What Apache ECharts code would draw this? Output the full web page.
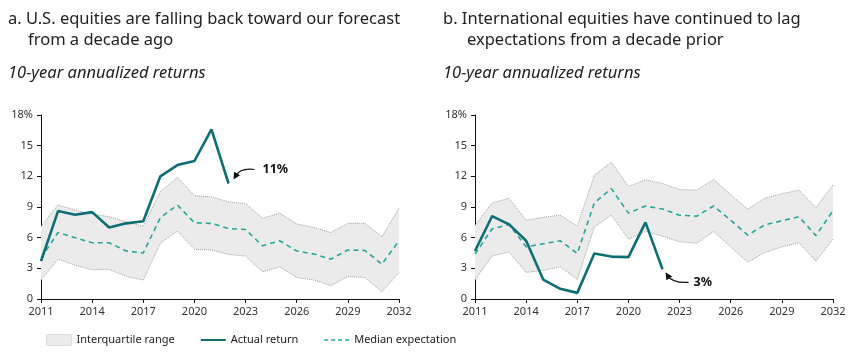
<!DOCTYPE html>
<html>
<head>
<meta charset="utf-8">
<script src="https://cdn.jsdelivr.net/npm/echarts@6/dist/echarts.min.js"></script>
<style>
  html, body { margin: 0; padding: 0; background: #fff; }
  #main { width: 860px; height: 352px; }
</style>
</head>
<body>
<div id="main"></div>
<script>
const years = ['2011','2012','2013','2014','2015','2016','2017','2018','2019','2020','2021',
  '2022','2023','2024','2025','2026','2027','2028','2029','2030','2031','2032'];
const yTicks = [0, 3, 6, 9, 12, 15, 18];

// a. U.S. equities
const usActual = [3.7, 8.6, 8.25, 8.5, 7.0, 7.4, 7.6, 12.0, 13.1, 13.5, 16.6, 11.3];
const usMedian = [4.0, 6.5, 6.0, 5.5, 5.5, 4.7, 4.5, 7.95, 9.2, 7.45, 7.4, 6.9, 6.8, 5.2, 5.7, 4.7, 4.4, 3.9, 4.8, 4.75, 3.4, 5.7];
const usUpper = [7.1, 9.2, 8.7, 8.3, 8.05, 7.55, 7.1, 10.5, 11.9, 10.1, 10.0, 9.5, 9.35, 7.9, 8.4, 7.35, 7.0, 6.5, 7.4, 7.4, 6.1, 8.9];
const usLower = [1.85, 3.9, 3.3, 2.85, 2.9, 2.2, 1.85, 5.45, 6.65, 4.85, 4.8, 4.35, 4.2, 2.65, 3.15, 2.1, 1.85, 1.3, 2.2, 2.1, 0.7, 2.6];

// b. International equities
const intlActual = [4.7, 8.1, 7.3, 5.7, 1.9, 1.0, 0.6, 4.45, 4.15, 4.1, 7.5, 2.9];
const intlMedian = [4.4, 6.85, 7.3, 5.1, 5.4, 5.7, 4.45, 9.4, 10.8, 8.4, 9.1, 8.8, 8.2, 8.1, 9.1, 7.7, 6.25, 7.25, 7.65, 8.05, 6.2, 8.65];
const intlUpper = [7.2, 9.4, 9.85, 7.7, 8.0, 8.2, 7.15, 12.1, 13.4, 11.0, 11.65, 11.3, 10.7, 10.65, 11.7, 10.2, 8.8, 9.85, 10.3, 10.65, 8.95, 11.15];
const intlLower = [1.85, 4.2, 4.6, 2.6, 2.8, 3.15, 1.9, 7.05, 8.2, 5.85, 6.6, 6.15, 5.6, 5.45, 6.6, 5.1, 3.6, 4.55, 5.1, 5.5, 3.7, 5.85];

const labels = { us: '11%', intl: '3%' };

const FONT = '"Noto Sans", "Open Sans", sans-serif';
const TEXT = '#222';
const ACTUAL = '#0e6e76';
const MEDIAN = '#26a69a';
const BAND = '#ebebeb';
const BAND_LINE = '#a0a0a0';

function xAxis(idx) {
  return {
    type: 'category', gridIndex: idx, data: years, boundaryGap: false,
    axisLine: { lineStyle: { color: '#111', width: 1 } },
    axisTick: { interval: 2, length: 4, lineStyle: { color: '#111' } },
    axisLabel: { interval: 2, color: '#333', fontFamily: FONT, fontSize: 11, margin: 7 }
  };
}
function yAxis(idx) {
  return {
    type: 'value', gridIndex: idx, min: 0, max: 18, interval: 3,
    axisLine: { show: true, lineStyle: { color: '#111', width: 1 } },
    axisTick: { show: true, length: 4, lineStyle: { color: '#111' } },
    splitLine: { show: false },
    axisLabel: {
      color: '#333', fontFamily: FONT, fontSize: 11, margin: 8,
      formatter: v => (v === 18 ? '18%' : String(v))
    }
  };
}
function bandSeries(idx, lower, upper, stack) {
  const diff = upper.map((u, i) => +(u - lower[i]).toFixed(2));
  return [
    {
      name: 'lower', type: 'line', xAxisIndex: idx, yAxisIndex: idx, stack: stack,
      data: lower, symbol: 'none', silent: true, z: 1,
      lineStyle: { color: BAND_LINE, width: 1, type: 'dotted' }
    },
    {
      name: 'Interquartile range', type: 'line', xAxisIndex: idx, yAxisIndex: idx, stack: stack,
      data: diff, symbol: 'none', silent: true, z: 1,
      itemStyle: { color: BAND },
      lineStyle: { color: BAND_LINE, width: 1, type: 'dotted' },
      areaStyle: { color: BAND, opacity: 1 }
    }
  ];
}
function lineSeries(idx, actual, median) {
  return [
    {
      name: 'Median expectation', type: 'line', xAxisIndex: idx, yAxisIndex: idx,
      data: median, symbol: 'none', z: 3,
      itemStyle: { color: MEDIAN },
      lineStyle: { color: MEDIAN, width: 1.6, type: [5, 4] }
    },
    {
      name: 'Actual return', type: 'line', xAxisIndex: idx, yAxisIndex: idx,
      data: actual, symbol: 'none', z: 4,
      itemStyle: { color: ACTUAL },
      lineStyle: { color: ACTUAL, width: 2.6 }
    }
  ];
}

function titleText(x, y, text, italic) {
  return {
    type: 'text', left: x, top: y,
    style: { text: text, fill: TEXT, font: (italic ? 'italic ' : '') + '16.5px ' + FONT }
  };
}

const chart = echarts.init(document.getElementById('main'), null, { renderer: 'canvas' });

const option = {
  animation: false,
  grid: [
    { left: 41, top: 115, width: 358, height: 184 },
    { left: 475, top: 115, width: 358, height: 184 }
  ],
  xAxis: [xAxis(0), xAxis(1)],
  yAxis: [yAxis(0), yAxis(1)],
  legend: {
    left: 41, top: 329, itemWidth: 25, itemHeight: 11, itemGap: 25,
    textStyle: { color: '#222', fontFamily: FONT, fontSize: 11 },
    data: [
      { name: 'Interquartile range', icon: 'rect', itemStyle: { color: BAND, borderColor: '#c4c4c4', borderType: 'dotted', borderWidth: 1 } },
      { name: 'Actual return', itemStyle: { opacity: 0 }, lineStyle: { color: ACTUAL, width: 2 } },
      { name: 'Median expectation', itemStyle: { opacity: 0 }, lineStyle: { color: MEDIAN, width: 1.6, type: [4, 3] } }
    ],
    selectedMode: false
  },
  series: [
    ...bandSeries(0, usLower, usUpper, 'us'),
    ...lineSeries(0, usActual, usMedian),
    ...bandSeries(1, intlLower, intlUpper, 'intl'),
    ...lineSeries(1, intlActual, intlMedian)
  ],
  graphic: [
    titleText(8, 11, 'a. U.S. equities are falling back toward our forecast'),
    titleText(28, 32, 'from a decade ago'),
    titleText(8, 65, '10-year annualized returns', true),
    titleText(443, 11, 'b. International equities have continued to lag'),
    titleText(467, 32, 'expectations from a decade prior'),
    titleText(443, 65, '10-year annualized returns', true)
  ]
};
chart.setOption(option);

// annotations anchored to the last actual point
function arrowHead(tip, from) {
  const dx = tip[0] - from[0], dy = tip[1] - from[1];
  const len = Math.sqrt(dx * dx + dy * dy);
  const ux = dx / len, uy = dy / len;
  const L = 7, W = 3.5;
  const bx = tip[0] - ux * L, by = tip[1] - uy * L;
  return [tip, [bx - uy * W, by + ux * W], [bx + uy * W, by - ux * W]];
}
function annotate(gridIdx, xCat, yVal, text, dir) {
  const p = chart.convertToPixel({ xAxisIndex: gridIdx, yAxisIndex: gridIdx }, [xCat, yVal]);
  let tip, start, ctrl, tx, ty;
  if (dir === 'up') {
    tip = [p[0] + 5, p[1] - 4];
    start = [p[0] + 26, p[1] - 14];
    ctrl = [p[0] + 12, p[1] - 16];
    tx = start[0] + 8; ty = start[1];
  } else {
    tip = [p[0] + 3, p[1] + 3];
    start = [p[0] + 26, p[1] + 13];
    ctrl = [p[0] + 10, p[1] + 14];
    tx = start[0] + 5; ty = start[1];
  }
  return [
    { type: 'bezierCurve', shape: { x1: start[0], y1: start[1], x2: tip[0] + (ctrl[0] - tip[0]) * 0.3, y2: tip[1] + (ctrl[1] - tip[1]) * 0.3, cpx1: ctrl[0], cpy1: ctrl[1] },
      style: { stroke: '#111', lineWidth: 1.2, fill: null }, z: 10 },
    { type: 'polygon', shape: { points: arrowHead(tip, ctrl) }, style: { fill: '#111' }, z: 10 },
    { type: 'text', x: tx, y: ty, style: { text: text, fill: '#111', font: 'bold 12.5px ' + FONT, verticalAlign: 'middle' }, z: 10 }
  ];
}
chart.setOption({
  graphic: option.graphic.concat(
    annotate(0, years[usActual.length - 1], usActual[usActual.length - 1], labels.us, 'up'),
    annotate(1, years[intlActual.length - 1], intlActual[intlActual.length - 1], labels.intl, 'down')
  )
}, { replaceMerge: ['graphic'] });

window.addEventListener('resize', chart.resize);
</script>
</body>
</html>
